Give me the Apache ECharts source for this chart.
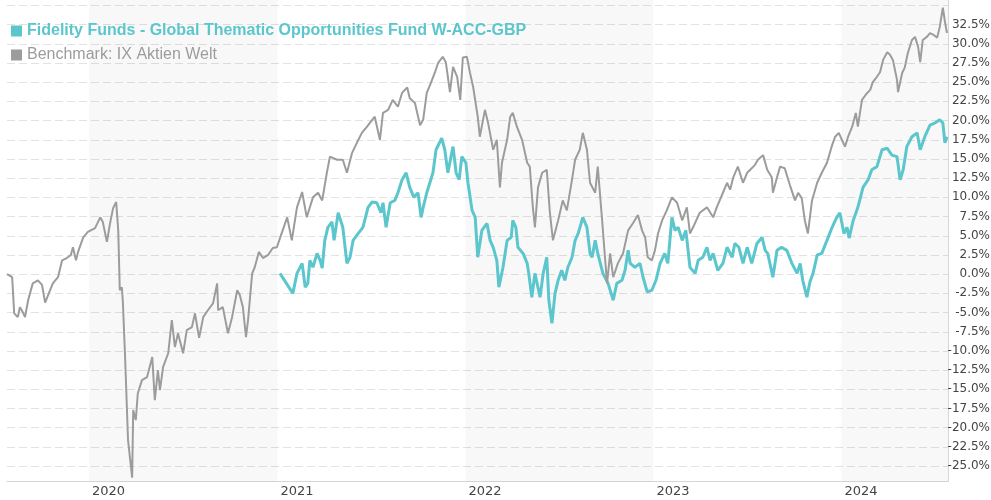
<!DOCTYPE html>
<html>
<head>
<meta charset="utf-8">
<script src="https://cdn.jsdelivr.net/npm/echarts@6/dist/echarts.min.js"></script>
<style>
  html, body { margin: 0; padding: 0; background: #fff; }
  #chart { width: 991px; height: 500px; }
</style>
</head>
<body>
<div id="chart"></div>
<script>
// time span of the chart, points are stored as day offsets from startDate
const startDate = [2019, 6, 26];
const endDate = [2024, 6, 26];
const shadedYears = [2020, 2022, 2024];
const gridValues = [-25, -22.5, -20, -17.5, -15, -12.5, -10, -7.5, -5, -2.5, 0, 2.5, 5, 7.5, 10, 12.5, 15, 17.5, 20, 22.5, 25, 27.5, 30, 32.5, 35];
const labelValues = gridValues.filter(v => v < 35);

const fundName = 'Fidelity Funds - Global Thematic Opportunities Fund W-ACC-GBP';
const benchName = 'Benchmark: IX Aktien Welt';

// benchmark (performance in %)
const benchDays = [0, 10, 14, 21, 25, 31, 35, 41, 50, 60, 68, 74, 80, 89, 99, 107, 116, 124, 128, 134, 138, 148, 157, 171, 181, 186, 194, 200, 206, 212,
  216, 219, 223, 225, 229, 235, 243, 245, 250, 254, 262, 272, 282, 287, 293, 297, 303, 313, 320, 326, 332, 342, 349, 359, 365, 373, 381, 390, 400, 408,
  410, 419, 429, 437, 447, 452, 458, 464, 468, 476, 481, 489, 497, 507, 516, 524, 530, 544, 553, 563, 573, 582, 594, 604, 612, 621, 627, 641, 652, 660,
  670, 680, 689, 699, 709, 714, 724, 730, 740, 749, 759, 767, 777, 782, 792, 802, 808, 815, 823, 831, 837, 846, 852, 860, 866, 874, 880, 885, 893, 899,
  905, 914, 918, 928, 934, 944, 951, 957, 961, 971, 977, 982, 990, 1000, 1010, 1015, 1021, 1025, 1031, 1039, 1048, 1054, 1060, 1070, 1079, 1087, 1097, 1103, 1112, 1118,
  1126, 1132, 1142, 1147, 1155, 1161, 1165, 1171, 1177, 1186, 1196, 1206, 1215, 1225, 1233, 1239, 1244, 1252, 1258, 1264, 1272, 1281, 1291, 1301, 1311, 1320, 1326, 1332, 1345, 1359,
  1371, 1378, 1390, 1398, 1404, 1410, 1419, 1429, 1437, 1443, 1452, 1458, 1468, 1476, 1485, 1487, 1495, 1501, 1510, 1520, 1530, 1536, 1543, 1549, 1555, 1563, 1573, 1582, 1592, 1602,
  1608, 1615, 1621, 1627, 1633, 1641, 1648, 1652, 1660, 1670, 1676, 1681, 1689, 1695, 1701, 1709, 1714, 1720, 1728, 1730, 1738, 1743, 1749, 1757, 1763, 1769, 1773, 1778, 1786, 1792,
  1798, 1806, 1811, 1817, 1821, 1825];
const benchValues = [0.0, -0.4, -5.1, -5.6, -4.3, -5.0, -5.6, -3.4, -1.2, -0.8, -1.4, -3.7, -2.7, -1.2, -0.4, 1.8, 2.1, 2.5, 3.5, 1.8, 2.9, 4.8, 5.5, 6.0, 7.4, 6.8, 4.2, 6.6, 8.6, 9.4,
  5.7, -2.1, -1.7, -3.7, -10.3, -21.6, -26.5, -17.7, -19.0, -15.5, -13.8, -13.4, -10.8, -16.4, -12.5, -15.1, -12.1, -10.3, -6.0, -9.5, -7.7, -10.3, -7.3, -6.9, -5.1, -8.3, -5.6, -4.7, -3.8, -1.2,
  -4.7, -4.3, -7.7, -5.6, -2.1, -2.7, -4.3, -8.2, -6.0, 0.1, 0.9, 2.9, 2.1, 2.5, 3.4, 3.5, 4.7, 7.4, 4.4, 8.7, 10.7, 7.4, 10.0, 10.6, 9.6, 13.2, 15.3, 14.9, 14.9, 13.2,
  15.8, 17.2, 18.4, 19.2, 20.1, 20.5, 17.5, 21.0, 21.4, 22.7, 21.8, 23.6, 24.3, 22.9, 22.3, 19.4, 20.1, 23.6, 24.9, 26.3, 27.5, 28.3, 27.6, 23.7, 27.0, 25.7, 22.7, 28.2, 28.3, 26.2,
  24.4, 20.5, 17.9, 21.4, 19.7, 16.2, 17.5, 11.3, 14.5, 17.5, 20.5, 21.0, 19.2, 17.5, 14.5, 14.0, 8.7, 6.1, 11.3, 13.2, 13.6, 8.0, 4.4, 7.0, 9.6, 8.3, 12.3, 14.9, 16.2, 18.4,
  16.2, 11.9, 10.6, 14.0, 7.4, 2.2, -1.2, 2.7, -0.4, 1.4, 2.7, 5.7, 6.6, 7.7, 5.7, 4.8, 2.2, 1.8, 3.1, 5.3, 7.0, 8.3, 10.0, 9.3, 7.0, 8.7, 5.3, 6.1, 8.0, 8.7,
  7.4, 8.7, 10.6, 11.9, 11.0, 12.6, 14.0, 11.9, 13.2, 13.6, 14.2, 14.9, 15.5, 13.6, 12.6, 10.6, 12.6, 14.0, 13.8, 11.6, 9.6, 10.6, 9.9, 7.0, 5.3, 9.6, 11.9, 13.2, 14.5, 16.8,
  17.9, 18.4, 17.5, 16.6, 17.9, 19.2, 21.0, 19.2, 22.7, 23.6, 24.0, 25.0, 25.7, 26.3, 27.9, 28.9, 28.6, 27.9, 25.3, 23.7, 26.2, 26.9, 28.8, 30.5, 30.9, 29.6, 27.6, 30.5, 30.9, 31.4,
  31.2, 30.8, 32.2, 34.7, 32.9, 31.4];

// fund (performance in %), starts in January 2021
const fundDays = [530, 555, 563, 573, 579, 584, 588, 594, 602, 608, 612, 617, 623, 631, 635, 643, 652, 660, 666, 672, 682, 691, 701, 709, 718, 726, 730, 736, 744, 753,
  759, 767, 775, 782, 790, 798, 804, 808, 815, 821, 827, 833, 844, 850, 856, 862, 866, 872, 878, 883, 891, 895, 903, 909, 914, 922, 932, 938, 944, 951,
  955, 963, 971, 979, 982, 988, 992, 1002, 1010, 1013, 1019, 1025, 1035, 1041, 1048, 1052, 1058, 1064, 1070, 1077, 1083, 1089, 1097, 1103, 1109, 1118, 1126, 1132, 1136, 1142,
  1147, 1157, 1167, 1177, 1184, 1194, 1200, 1206, 1210, 1219, 1229, 1235, 1243, 1252, 1260, 1268, 1277, 1283, 1291, 1297, 1303, 1311, 1318, 1326, 1336, 1342, 1351, 1359, 1365, 1371,
  1380, 1390, 1398, 1408, 1413, 1421, 1429, 1437, 1446, 1456, 1466, 1472, 1477, 1487, 1495, 1504, 1514, 1524, 1534, 1540, 1545, 1553, 1559, 1565, 1573, 1582, 1592, 1602, 1611, 1617,
  1625, 1631, 1635, 1643, 1652, 1662, 1672, 1679, 1689, 1699, 1709, 1718, 1728, 1734, 1740, 1747, 1757, 1767, 1773, 1782, 1792, 1802, 1811, 1817, 1821, 1825];
const fundValues = [0.1, -2.5, 0.1, 1.4, -1.7, -1.2, 1.8, 0.9, 2.7, 1.8, 0.8, 4.4, 6.1, 6.8, 4.4, 8.0, 6.1, 1.4, 2.2, 4.4, 5.3, 6.1, 8.7, 9.4, 9.3, 8.0, 9.3, 6.1, 9.3, 9.6,
  10.6, 12.3, 13.2, 11.3, 10.0, 10.6, 7.4, 8.7, 10.6, 11.9, 13.2, 16.2, 17.7, 16.2, 13.2, 15.3, 16.6, 13.2, 12.3, 15.3, 14.5, 11.9, 8.3, 7.4, 2.2, 5.7, 6.6, 4.4, 3.5, 1.8,
  -1.7, 0.9, 4.4, 4.8, 7.0, 6.1, 3.5, 2.7, 1.4, 0.1, -3.0, 0.1, -3.0, 0.1, 2.2, -3.4, -6.4, -2.5, -0.8, 0.5, -0.8, 0.9, 2.2, 4.4, 5.3, 7.4, 6.1, 2.7, 2.2, 4.4,
  2.7, 0.1, -1.2, -3.4, -1.2, -0.8, 0.5, 3.1, 1.4, 0.9, 1.4, -0.4, -2.3, -2.1, -0.8, 1.4, 2.7, 1.4, 7.4, 5.7, 6.1, 4.4, 5.7, 0.9, 0.1, 1.8, 2.2, 3.5, 1.8, 2.7,
  0.5, 1.4, 3.5, 2.2, 4.0, 3.5, 1.4, 3.5, 1.4, 4.0, 4.8, 3.1, 2.7, -0.4, 3.1, 3.5, 3.1, 1.4, 0.1, 1.4, -0.8, -3.0, -1.0, 0.1, 2.5, 2.7, 4.4, 6.1, 7.4, 8.0,
  5.3, 6.1, 4.7, 7.0, 8.7, 11.3, 12.3, 13.6, 14.0, 16.2, 16.4, 15.5, 15.3, 12.3, 13.6, 16.6, 17.9, 18.4, 16.2, 17.9, 19.4, 19.7, 20.1, 19.7, 17.1, 17.9];

const fundColor = '#5cc6cd';
const benchColor = '#9c9c9c';
const DAY = 86400000;
const t0 = new Date(startDate[0], startDate[1], startDate[2]).getTime();
const tEnd = new Date(endDate[0], endDate[1], endDate[2]).getTime();
const yearStart = y => new Date(y, 0, 1).getTime();
const toPoints = (days, vals) => days.map((d, i) => [t0 + d * DAY, vals[i]]);

const bands = shadedYears.map(y => [
  { xAxis: yearStart(y) },
  { xAxis: Math.min(yearStart(y + 1), tEnd) }
]);

const chart = echarts.init(document.getElementById('chart'));
chart.setOption({
  animation: false,
  grid: { left: 7, right: 43, top: 0, bottom: 18.5, outerBoundsMode: 'none', containLabel: false },
  legend: {
    orient: 'vertical',
    left: 6,
    top: 18,
    itemGap: 8,
    itemWidth: 11,
    itemHeight: 11,
    icon: 'rect',
    selectedMode: false,
    data: [
      { name: fundName, itemStyle: { color: fundColor },
        textStyle: { color: fundColor, fontWeight: 'bold', fontSize: 16, fontFamily: 'Liberation Sans' } },
      { name: benchName, itemStyle: { color: benchColor },
        textStyle: { color: benchColor, fontSize: 16, fontFamily: 'Liberation Sans' } }
    ]
  },
  xAxis: {
    type: 'time',
    min: t0,
    max: tEnd,
    splitNumber: 5,
    axisLine: { onZero: false, lineStyle: { color: '#d6d6d6' } },
    axisTick: { show: false },
    splitLine: { show: false },
    axisLabel: {
      formatter: v => {
        const d = new Date(v);
        return d.getMonth() === 0 && d.getDate() === 1 ? String(d.getFullYear()) : '';
      },
      showMinLabel: false,
      showMaxLabel: false,
      hideOverlap: false,
      align: 'left',
      margin: 4,
      padding: [0, 0, 0, 3],
      color: '#444',
      fontSize: 13,
      fontFamily: 'DejaVu Sans'
    }
  },
  yAxis: {
    type: 'value',
    position: 'right',
    min: -27,
    max: 35.7,
    axisLine: { show: true, lineStyle: { color: '#d6d6d6' } },
    axisTick: { show: false, customValues: gridValues },
    splitLine: { lineStyle: { color: '#e2e2e2', type: [8, 4] } },
    axisLabel: {
      customValues: labelValues,
      formatter: v => v.toFixed(1) + '%',
      align: 'right',
      margin: 42,
      color: '#444',
      fontSize: 12,
      fontFamily: 'DejaVu Sans'
    }
  },
  series: [
    {
      name: fundName,
      type: 'line',
      data: toPoints(fundDays, fundValues),
      showSymbol: false,
      color: fundColor,
      lineStyle: { width: 3, color: fundColor },
      z: 2
    },
    {
      name: benchName,
      type: 'line',
      data: toPoints(benchDays, benchValues),
      showSymbol: false,
      color: benchColor,
      lineStyle: { width: 2, color: benchColor },
      markArea: {
        silent: true,
        itemStyle: { color: 'rgba(0,0,0,0.028)' },
        data: bands
      },
      z: 3
    }
  ]
});
</script>
</body>
</html>
